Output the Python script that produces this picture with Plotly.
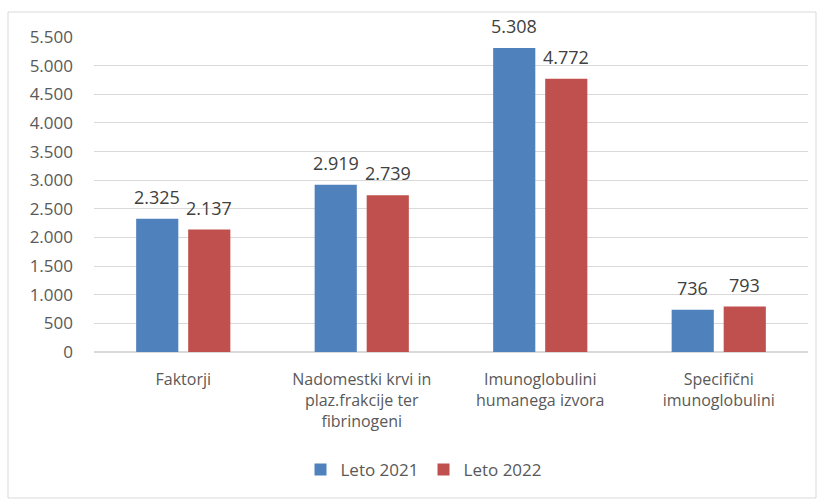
import plotly.graph_objects as go

categories = [
    "Faktorji",
    "Nadomestki krvi in<br>plaz.frakcije ter<br>fibrinogeni",
    "Imunoglobulini<br>humanega izvora",
    "Specifični<br>imunoglobulini",
]
leto_2021 = [2325, 2919, 5308, 736]
leto_2022 = [2137, 2739, 4772, 793]
y_ticks = list(range(0, 5501, 500))

W, H = 821, 500
L, R, T, B = 94, 13, 37, 148
pw, ph = W - L - R, H - T - B

fig = go.Figure()
series = [("Leto 2021", leto_2021, "#4F81BD", -26), ("Leto 2022", leto_2022, "#C0504D", 26)]
annotations = []
for name, vals, col, dx in series:
    fig.add_trace(
        go.Bar(
            x=categories,
            y=vals,
            name=name,
            marker=dict(color=col, line=dict(width=0)),
            hoverinfo="x+y",
        )
    )
    for c, v in zip(categories, vals):
        annotations.append(
            dict(
                x=c,
                y=v,
                text=f"{v:,}".replace(",", "."),
                showarrow=False,
                xshift=dx,
                yshift=8,
                yanchor="bottom",
                font=dict(size=18, color="#404040"),
            )
        )

fig.update_layout(
    width=W,
    height=H,
    margin=dict(l=L, r=R, t=T, b=B),
    paper_bgcolor="white",
    plot_bgcolor="white",
    separators=",.",
    font=dict(family="Open Sans, sans-serif", color="#595959"),
    barmode="group",
    bargap=0.417,
    bargroupgap=0.19,
    showlegend=True,
    annotations=annotations,
    legend=dict(
        orientation="h",
        x=(424 - L) / pw,
        xanchor="center",
        y=(H - B - 470) / ph,
        yanchor="middle",
        font=dict(size=17, color="#595959"),
        itemwidth=30,
    ),
    xaxis=dict(
        tickfont=dict(size=16, color="#595959"),
        showline=False,
        ticks="",
        automargin=False,
        ticklabelstandoff=16,
    ),
    yaxis=dict(
        range=[0, 5500],
        tickvals=y_ticks,
        tickformat=",d",
        tickfont=dict(size=17, color="#595959"),
        gridcolor="#D9D9D9",
        gridwidth=1,
        zeroline=True,
        zerolinecolor="#D9D9D9",
        automargin=False,
        ticklabelstandoff=20,
    ),
    shapes=[
        dict(
            type="rect",
            xref="paper",
            yref="paper",
            x0=(8 - L) / pw,
            x1=(816 - L) / pw,
            y0=(H - B - 498) / ph,
            y1=(H - B - 12) / ph,
            line=dict(color="#D9D9D9", width=1),
            fillcolor="rgba(0,0,0,0)",
            layer="below",
        )
    ],
)

fig.write_html(
    "out.html",
    config={"displayModeBar": False},
    post_script="document.body.style.margin='0px';",
)
